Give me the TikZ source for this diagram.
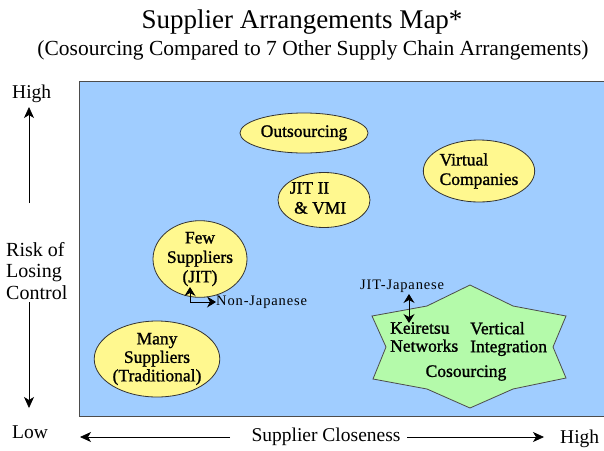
\documentclass[tikz,border=0pt]{standalone}
\usepackage{fontspec}
\setmainfont{Liberation Serif}
\usetikzlibrary{shapes.geometric,arrows.meta}
\definecolor{bgblue}{HTML}{A0CDFF}
\definecolor{ellyellow}{HTML}{FFF88F}
\definecolor{stargreen}{HTML}{B4FAAA}
\begin{document}
\begin{tikzpicture}[x=1pt,y=-1pt,
  ell/.style={ellipse,draw=black!80,fill=ellyellow,line width=0.8pt,inner sep=0pt,
    font=\fontsize{17.5}{19.5}\selectfont\addfontfeature{FakeBold=1.2},align=center},
  lbl/.style={inner sep=0pt,font=\fontsize{17.5}{18}\selectfont\addfontfeature{FakeBold=1.2}},
  axlbl/.style={inner sep=0pt,font=\fontsize{19.5}{21.5}\selectfont},
  small/.style={inner sep=0pt,font=\fontsize{14.5}{16}\selectfont\addfontfeature{LetterSpace=6}},
  axarrow/.style={-{Stealth[length=11pt,width=10pt,inset=3pt]},line width=0.8pt},
  smarrow/.style={{Stealth[length=9pt,width=11pt,inset=3pt]}-{Stealth[length=9pt,width=11pt,inset=3pt]},line width=0.8pt}]
\useasboundingbox (0,0) rectangle (604,450);
\fill[white] (0,0) rectangle (604,450);
% title
\node[inner sep=0pt,font=\fontsize{27}{30}\selectfont] (title) at (302,22) {Supplier Arrangements Map*};
\node[inner sep=0pt,font=\fontsize{21.5}{24}\selectfont] (subtitle) at (313,50) {(Cosourcing Compared to 7 Other Supply Chain Arrangements)};
% plot area
\begin{scope}
\clip (0,0) rectangle (604,450);
\draw[fill=bgblue,draw=black!70,line width=0.8pt] (79,81) rectangle (612,416);
\end{scope}
% ellipses
\node[ell,minimum width=128pt,minimum height=40pt] (outs) at (304,133) {Outsourcing};
\node[ell,minimum width=92pt,minimum height=55pt] (jit2) at (324,200) {};
\node[lbl,align=left,font=\fontsize{17.5}{20}\selectfont\addfontfeature{FakeBold=1.2}] (jit2t) at (318,198) {JIT II\\\ \& VMI};
\node[ell,minimum width=102pt,minimum height=62pt,align=left] (virt) at (479,171) {Virtual\\Companies};
\node[ell,minimum width=94pt,minimum height=66pt] (few) at (200,259) {Few\\Suppliers\\(JIT)};
\node[ell,minimum width=106pt,minimum height=76pt,font=\fontsize{17.5}{18.5}\selectfont\addfontfeature{FakeBold=1.2}] (many) at (157,359) {Many\\Suppliers\\(Traditional)};
% star
\draw[fill=stargreen,draw=black!70,line width=0.8pt]
  (470,285) -- (513,306) -- (566,316) -- (553,347) -- (566,378) -- (513,389)
  -- (470,408) -- (427,389) -- (373,379) -- (386,347) -- (372,316) -- (427,306) -- cycle;
\node[lbl,align=left,anchor=west] (keir) at (390,337) {Keiretsu\\Networks};
\node[lbl,align=left,anchor=west] (vert) at (470,339) {Vertical\\Integration};
\node[lbl] (cosrc) at (466,373) {Cosourcing};
% small labels
\node[small,anchor=west] (jitjap) at (360,286) {JIT-Japanese};
\coordinate (jjtop) at (409,294);
\coordinate (jjbot) at (409,323);
\draw[smarrow] (jjtop) -- (jjbot);
\node[small,anchor=west] (nonjap) at (216,302) {Non-Japanese};
\coordinate (fewtip) at (190,287);
\draw[smarrow] (fewtip) |- (nonjap.west);
% vertical axis
\node[axlbl,anchor=west] (yhigh) at (12,94) {High};
\node[anchor=west,align=left,inner sep=0pt,font=\fontsize{20}{21.5}\selectfont] (risk) at (6,271) {Risk of\\Losing\\Control};
\node[axlbl,anchor=west] (ylow) at (12,432) {Low};
\coordinate (upA) at (29,203);
\coordinate (upB) at (29,107);
\coordinate (dnA) at (29,302);
\coordinate (dnB) at (29,408);
\draw[axarrow] (upA) -- (upB);
\draw[axarrow] (dnA) -- (dnB);
% horizontal axis
\node[axlbl] (close) at (326,437) {Supplier Closeness};
\node[axlbl,anchor=west] (xhigh) at (560,439) {High};
\coordinate (lfA) at (230,437);
\coordinate (lfB) at (80,437);
\coordinate (rtA) at (407,437);
\coordinate (rtB) at (544,437);
\draw[axarrow] (lfA) -- (lfB);
\draw[axarrow] (rtA) -- (rtB);
\end{tikzpicture}
\end{document}
